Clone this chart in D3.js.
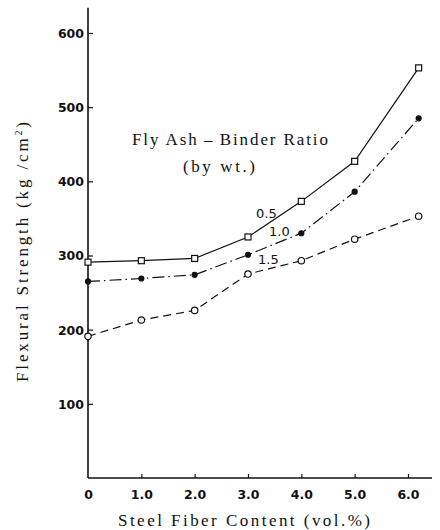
<!DOCTYPE html>
<html>
<head>
<meta charset="utf-8">
<script src="https://cdn.jsdelivr.net/npm/d3@7"></script>
<style>
  body { margin: 0; background: #fff; }
  svg { display: block; }
</style>
</head>
<body>
<svg width="440" height="530"></svg>
<script>
// steel fiber content (vol.%)
var fiber = [0, 1, 2, 3, 4, 5, 6.2];

// fly ash - binder ratio series, flexural strength kg/cm2
var ratios = ["0.5", "1.0", "1.5"];
var ratio05 = [291, 293, 296, 325, 373, 427, 553];
var ratio10 = [265, 269, 274, 301, 330, 386, 485];
var ratio15 = [191, 213, 226, 275, 293, 322, 353];

var xTicks = [0, 1, 2, 3, 4, 5, 6];
var xTickLabels = ["0", "1.0", "2.0", "3.0", "4.0", "5.0", "6.0"];
var yTicks = [100, 200, 300, 400, 500, 600];

var svg = d3.select("svg");
svg.append("rect").attr("width", 440).attr("height", 530).attr("fill", "#fff");

var x = d3.scaleLinear().domain([0, 6]).range([88, 408]);
var y = d3.scaleLinear().domain([0, 600]).range([478, 33]);

var ink = "#111";

// axis lines (y goes a bit above 600, x runs past 6.0)
svg.append("line")
    .attr("x1", x(0)).attr("x2", x(0))
    .attr("y1", y(0)).attr("y2", y(634))
    .attr("stroke", ink).attr("stroke-width", 1.6);
svg.append("line")
    .attr("x1", x(0)).attr("x2", x(6.45))
    .attr("y1", y(0)).attr("y2", y(0))
    .attr("stroke", ink).attr("stroke-width", 1.6);

var yAxis = d3.axisLeft(y)
    .tickValues(yTicks)
    .tickSize(-5)
    .tickPadding(4)
    .tickFormat(d3.format("d"));
var gy = svg.append("g").attr("transform", "translate(" + x(0) + ",0)").call(yAxis);
gy.select(".domain").remove();

var xAxis = d3.axisBottom(x)
    .tickValues(xTicks)
    .tickSize(-4)
    .tickPadding(12)
    .tickFormat(function(d, i) { return xTickLabels[i]; });
var gx = svg.append("g").attr("transform", "translate(0," + y(0) + ")").call(xAxis);
gx.select(".domain").remove();
gx.selectAll(".tick").filter(function(d) { return d === 0; }).select("line").remove();

[gx, gy].forEach(function(g) {
    g.selectAll(".tick line").attr("stroke", ink).attr("stroke-width", 1.2);
    g.selectAll(".tick text")
        .attr("fill", ink)
        .style("font-family", "DejaVu Sans")
        .style("font-weight", "bold")
        .style("font-size", "12.5px");
});
gy.selectAll(".tick text").attr("dy", "0.35em");

// series
var series = [
    {name: ratios[0], values: ratio05, dash: null, marker: "square"},
    {name: ratios[1], values: ratio10, dash: "12,4,1.5,4", marker: "dot"},
    {name: ratios[2], values: ratio15, dash: "8,5", marker: "circle"}
];

var line = d3.line()
    .x(function(d, i) { return x(fiber[i]); })
    .y(function(d) { return y(d); });

series.forEach(function(s) {
    svg.append("path")
        .attr("d", line(s.values))
        .attr("fill", "none")
        .attr("stroke", ink)
        .attr("stroke-width", 1.2)
        .attr("stroke-dasharray", s.dash);

    var g = svg.append("g");
    if (s.marker === "square") {
        g.selectAll("rect").data(s.values).enter().append("rect")
            .attr("x", function(d, i) { return x(fiber[i]) - 3; })
            .attr("y", function(d) { return y(d) - 3; })
            .attr("width", 6).attr("height", 6)
            .attr("fill", "#fff").attr("stroke", ink).attr("stroke-width", 1.2);
    } else {
        g.selectAll("circle").data(s.values).enter().append("circle")
            .attr("cx", function(d, i) { return x(fiber[i]); })
            .attr("cy", function(d) { return y(d); })
            .attr("r", s.marker === "dot" ? 2.5 : 3.2)
            .attr("fill", s.marker === "dot" ? ink : "#fff")
            .attr("stroke", ink).attr("stroke-width", 1.2);
    }
});

// ratio labels, placed near the 3.0 point of each line
var labelOffsets = [[8, -19], [21, -19], [10, -10]];
series.forEach(function(s, k) {
    svg.append("text")
        .attr("x", x(fiber[3]) + labelOffsets[k][0])
        .attr("y", y(s.values[3]) + labelOffsets[k][1])
        .attr("fill", ink)
        .style("font-family", "DejaVu Sans")
        .style("font-size", "13px")
        .text(s.name);
});

// legend title
svg.append("text")
    .attr("x", 132).attr("y", 145)
    .attr("textLength", 196)
    .attr("fill", ink)
    .style("font-family", "Liberation Serif")
    .style("font-size", "17px")
    .text("Fly Ash\u2009\u2013\u2009Binder Ratio");
svg.append("text")
    .attr("x", 219).attr("y", 172)
    .attr("text-anchor", "middle")
    .attr("textLength", 72)
    .attr("fill", ink)
    .style("font-family", "Liberation Serif")
    .style("font-size", "17px")
    .text("(by wt.)");

// axis titles
svg.append("text")
    .attr("transform", "translate(28,252) rotate(-90)")
    .attr("text-anchor", "middle")
    .attr("textLength", 260)
    .attr("fill", ink)
    .style("font-family", "Liberation Serif")
    .style("font-size", "17px")
    .html("Flexural Strength (kg /cm<tspan dy='-6' font-size='10'>2</tspan><tspan dy='6'>)</tspan>");

svg.append("text")
    .attr("x", 244).attr("y", 526)
    .attr("text-anchor", "middle")
    .attr("textLength", 252)
    .attr("fill", ink)
    .style("font-family", "Liberation Serif")
    .style("font-size", "17px")
    .text("Steel Fiber Content (vol.%)");
</script>
</body>
</html>
